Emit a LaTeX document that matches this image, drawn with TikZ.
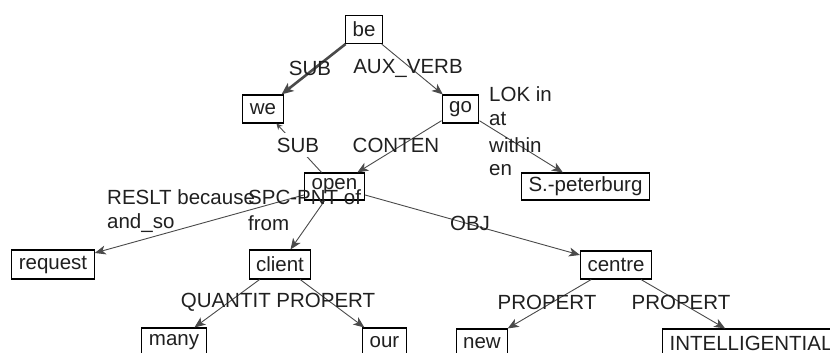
\documentclass[tikz,border=0pt]{standalone}
\usepackage{fontspec}
\setmainfont{Liberation Sans}
\usetikzlibrary{arrows.meta}
\definecolor{edgecol}{HTML}{4A4A4A}
\definecolor{txtcol}{HTML}{202020}
\begin{document}
\begin{tikzpicture}[x=1pt,y=-1pt,
  word/.style={draw=black,line width=1.1pt,fill=white,inner xsep=7pt,inner ysep=0pt,minimum height=28pt,font=\fontsize{20.5}{23}\selectfont,text=txtcol,anchor=center},
  lbl/.style={inner sep=0pt,font=\fontsize{20.5}{23}\selectfont,text=txtcol},
  edge/.style={draw=edgecol,line width=0.9pt,-{Stealth[length=11pt,width=9pt,inset=3pt]}},
  boldedge/.style={draw=edgecol,line width=2.6pt,-{Stealth[length=12pt,width=10pt,inset=3pt]}}]
\useasboundingbox (0,0) rectangle (830,353);
\clip (0,0) rectangle (830,353);
\fill[white] (0,0) rectangle (830,353);
% nodes
\node[word] (be) at (364,29.5) {be};
\node[word] (we) at (263,109) {we};
\node[word] (go) at (460.5,109) {go};
\node[word,minimum height=27pt] (open) at (334.5,186.5) {open};
\node[word,minimum height=27pt] (spb) at (585.5,186.5) {S.-peterburg};
\node[word,minimum height=29pt] (request) at (53,264.5) {request};
\node[word,minimum height=29pt] (client) at (280,264.5) {client};
\node[word] (centre) at (616,265) {centre};
\node[word,minimum height=29pt] (many) at (174,342.5) {many};
\node[word,minimum height=29pt] (our) at (384.5,342.5) {our};
\node[word,minimum height=29pt] (new) at (482,343.5) {new};
\node[word,minimum height=29pt,anchor=west] (intel) at (662,343.5) {INTELLIGENTIAL};
% edges
\draw[boldedge] (be) -- (we);
\draw[edge] (be) -- (go);
\draw[edge] (go) -- (open);
\draw[edge] (go) -- (spb);
\draw[draw=edgecol,line width=0.9pt,-{Stealth[length=6pt,width=6pt,inset=2pt]}] (open) -- (we);
\draw[edge] (open) -- (request);
\draw[edge] (open) -- (client);
\draw[edge] (open) -- (centre);
\draw[edge] (client) -- (many);
\draw[edge] (client) -- (our);
\draw[edge] (centre) -- (new);
\draw[edge] (centre) -- (intel);
% labels
\node[lbl] (lsub1) at (310,68) {SUB};
\node[lbl] (laux) at (408,68) {AUX\_VERB};
\node[lbl,anchor=west] (llok) at (489,94) {LOK in};
\node[lbl,anchor=west] (lat) at (489,119) {at};
\node[lbl,anchor=west] (lwithin) at (489,145) {within};
\node[lbl,anchor=west] (len) at (489,170) {en};
\node[lbl,fill=white,inner xsep=2pt,inner ysep=5pt] (lsub2) at (298,145) {SUB};
\node[lbl] (lconten) at (396,145) {CONTEN};
\node[lbl,anchor=west] (lreslt) at (107,197) {RESLT because};
\node[lbl,anchor=west] (landso) at (107,223) {and\_so};
\node[lbl,anchor=west] (lspc) at (248,197) {SPC-PNT of};
\node[lbl,anchor=west] (lfrom) at (248,223) {from};
\node[lbl] (lobj) at (470,223) {OBJ};
\node[lbl] (lqp) at (278,302) {QUANTIT PROPERT};
\node[lbl] (lp1) at (547,302) {PROPERT};
\node[lbl] (lp2) at (681,302) {PROPERT};
\end{tikzpicture}
\end{document}
